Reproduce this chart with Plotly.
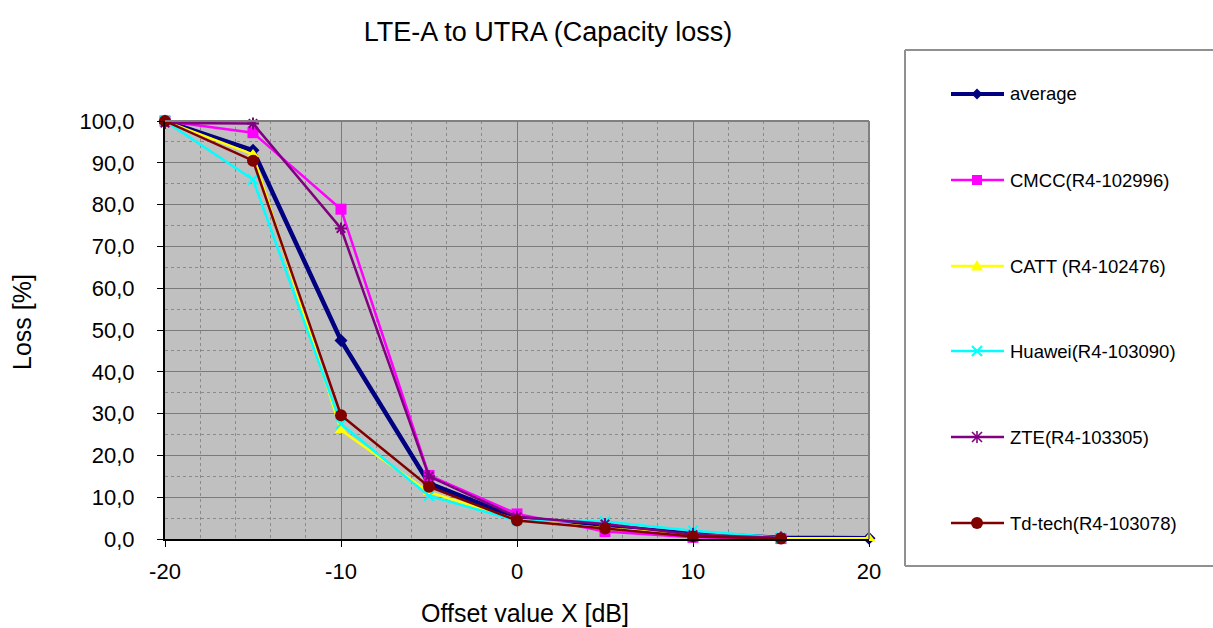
import plotly.graph_objects as go

# ---- data ----
offsets = [-20, -15, -10, -5, 0, 5, 10, 15, 20]
average = [100.0, 93.0, 47.5, 13.3, 5.0, 3.0, 1.2, 0.3, 0.2]
cmcc = [100.0, 97.2, 78.9, 15.2, 6.0, 1.8, 0.4, 0.1, None]
catt = [100.0, 92.0, 26.0, 11.2, 4.6, 2.6, 1.0, 0.2, 0.2]
huawei = [100.0, 86.0, 27.5, 10.3, 4.4, 4.2, 2.0, 0.3, None]
zte = [99.5, 99.4, 74.3, 15.0, 5.3, 3.6, 1.0, 0.3, None]
tdtech = [100.0, 90.5, 29.6, 12.5, 4.4, 2.5, 0.6, 0.1, None]

series_names = ["average", "CMCC(R4-102996)", "CATT (R4-102476)",
                "Huawei(R4-103090)", "ZTE(R4-103305)", "Td-tech(R4-103078)"]
y_tickvals = [0, 10, 20, 30, 40, 50, 60, 70, 80, 90, 100]
y_ticktext = ["0,0", "10,0", "20,0", "30,0", "40,0", "50,0", "60,0", "70,0", "80,0", "90,0", "100,0"]
x_tickvals = [-20, -10, 0, 10, 20]
x_ticktext = ["-20", "-10", "0", "10", "20"]

styles = [
    dict(color="#000080", width=4.5, symbol="diamond", size=10),
    dict(color="#FF00FF", width=2.5, symbol="square", size=11),
    dict(color="#FFFF00", width=2.5, symbol="triangle-up", size=11),
    dict(color="#00FFFF", width=2.5, symbol="x-thin", size=10),
    dict(color="#800080", width=2.5, symbol="asterisk", size=10),
    dict(color="#800000", width=2.5, symbol="circle", size=12),
]
values = [average, cmcc, catt, huawei, zte, tdtech]

FONT = "Liberation Sans, Arial, sans-serif"

# page geometry in page pixels (body margin removed by post_script)
W, H = 1213, 628
PL, PR, PT, PB = 165, 869, 121, 539          # plot area
L, T, R, B = PL, PT, W - PR, H - PB
pw, ph = PR - PL, PB - PT

def px_x(p):
    return (p - PL) / pw

def px_y(p):
    return (PB - p) / ph

fig = go.Figure()
for i, (name, ys, st) in enumerate(zip(series_names, values, styles)):
    thin = st["symbol"] in ("x-thin", "asterisk")
    fig.add_trace(go.Scatter(
        x=offsets, y=ys, name=name, mode="lines+markers", showlegend=False,
        line=dict(color=st["color"], width=st["width"]),
        marker=dict(symbol=st["symbol"], size=st["size"], color=st["color"],
                    line=dict(color=st["color"], width=2 if thin else 0)),
        cliponaxis=False,
    ))


def path(points, close=True):
    s = "M " + " L ".join(f"{px_x(x):.5f},{px_y(y):.5f}" for x, y in points)
    return s + (" Z" if close else "")


def legend_marker(symbol, color, cx, cy):
    out = []
    if symbol == "diamond":
        r = 5.5
        out.append(dict(type="path", xref="paper", yref="paper",
                        path=path([(cx, cy - r), (cx + r, cy), (cx, cy + r), (cx - r, cy)]),
                        fillcolor=color, line=dict(width=0)))
    elif symbol == "square":
        r = 5
        out.append(dict(type="path", xref="paper", yref="paper",
                        path=path([(cx - r, cy - r), (cx + r, cy - r), (cx + r, cy + r), (cx - r, cy + r)]),
                        fillcolor=color, line=dict(width=0)))
    elif symbol == "triangle-up":
        r = 6
        out.append(dict(type="path", xref="paper", yref="paper",
                        path=path([(cx, cy - r), (cx + r, cy + r * 0.75), (cx - r, cy + r * 0.75)]),
                        fillcolor=color, line=dict(width=0)))
    elif symbol == "x-thin":
        r = 5
        for dx in (-1, 1):
            out.append(dict(type="line", xref="paper", yref="paper",
                            x0=px_x(cx - r), y0=px_y(cy - dx * r), x1=px_x(cx + r), y1=px_y(cy + dx * r),
                            line=dict(color=color, width=2)))
    elif symbol == "asterisk":
        r = 5
        for dx in (-1, 1):
            out.append(dict(type="line", xref="paper", yref="paper",
                            x0=px_x(cx - r), y0=px_y(cy - dx * r), x1=px_x(cx + r), y1=px_y(cy + dx * r),
                            line=dict(color=color, width=1.6)))
        out.append(dict(type="line", xref="paper", yref="paper",
                        x0=px_x(cx), y0=px_y(cy - r - 1), x1=px_x(cx), y1=px_y(cy + r + 1),
                        line=dict(color=color, width=1.6)))
    elif symbol == "circle":
        r = 6
        out.append(dict(type="circle", xref="paper", yref="paper",
                        x0=px_x(cx - r), x1=px_x(cx + r), y0=px_y(cy + r), y1=px_y(cy - r),
                        fillcolor=color, line=dict(width=0)))
    return out


# ---- hand-built legend ----
leg_y = [94, 180, 266, 351, 437, 523]
leg_x0, leg_xm, leg_x1, leg_tx = 951, 977, 1004, 1008
shapes = []
annotations = []
for i, (name, st) in enumerate(zip(series_names, styles)):
    yy = leg_y[i]
    shapes.append(dict(type="line", xref="paper", yref="paper",
                       x0=px_x(leg_x0), x1=px_x(leg_x1), y0=px_y(yy), y1=px_y(yy),
                       line=dict(color=st["color"], width=min(st["width"], 4))))
    shapes += legend_marker(st["symbol"], st["color"], leg_xm, yy)
    annotations.append(dict(text=name, xref="paper", yref="paper", x=px_x(leg_tx), y=px_y(yy),
                            xanchor="left", yanchor="middle", showarrow=False,
                            font=dict(size=18.5, family=FONT)))

BOX_L, BOX_T, BOX_B, BOX_R = 905, 50, 566, 1240
box_line = dict(color="#909090", width=2)
shapes += [
    dict(type="line", xref="paper", yref="paper", x0=0, x1=1, y0=1, y1=1,
         line=dict(color="#808080", width=2), layer="above"),
    dict(type="line", xref="paper", yref="paper", x0=1, x1=1, y0=0, y1=1,
         line=dict(color="#808080", width=2), layer="above"),
    dict(type="line", xref="paper", yref="paper", x0=px_x(BOX_L), x1=px_x(BOX_R),
         y0=px_y(BOX_T), y1=px_y(BOX_T), line=box_line),
    dict(type="line", xref="paper", yref="paper", x0=px_x(BOX_L), x1=px_x(BOX_R),
         y0=px_y(BOX_B), y1=px_y(BOX_B), line=box_line),
    dict(type="line", xref="paper", yref="paper", x0=px_x(BOX_L), x1=px_x(BOX_L),
         y0=px_y(BOX_T), y1=px_y(BOX_B), line=box_line),
]
annotations += [
    dict(text="Offset value X [dB]", xref="paper", yref="paper",
         x=px_x(525), y=px_y(613), xanchor="center", yanchor="middle",
         showarrow=False, font=dict(size=25, family=FONT)),
    dict(text="Loss [%]", xref="paper", yref="paper",
         x=px_x(22), y=px_y(322), xanchor="center", yanchor="middle",
         textangle=-90, showarrow=False, font=dict(size=25, family=FONT)),
]

fig.update_layout(
    width=W, height=H, autosize=False,
    margin=dict(l=L, r=R, t=T, b=B, pad=0),
    paper_bgcolor="white", plot_bgcolor="#C0C0C0",
    font=dict(family=FONT, color="black", size=22),
    title=dict(text="LTE-A to UTRA (Capacity loss)", font=dict(size=27, family=FONT),
               x=px_x(548), xanchor="center", y=1 - 32 / H, yanchor="middle",
               xref="paper", yref="container"),
    showlegend=False,
    xaxis=dict(range=[-20, 20], tickvals=x_tickvals, ticktext=x_ticktext, ticks="outside", ticklen=6,
               tickcolor="black", showline=True, linecolor="black", linewidth=2,
               showgrid=True, gridcolor="#7a7a7a", gridwidth=1, zeroline=False,
               ticklabelstandoff=6,
               minor=dict(dtick=2, showgrid=True, gridcolor="#8a8a8a", griddash="dot", gridwidth=1)),
    yaxis=dict(range=[0, 100], tickvals=y_tickvals, ticktext=y_ticktext, ticks="outside",
               ticklen=6, tickcolor="black", showline=True, linecolor="black", linewidth=2,
               showgrid=True, gridcolor="#7a7a7a", gridwidth=1, zeroline=False,
               ticklabelstandoff=18,
               minor=dict(dtick=5, showgrid=True, gridcolor="#8a8a8a", griddash="dot", gridwidth=1)),
    shapes=shapes,
    annotations=annotations,
)

fig.write_html("out.html", config={"displayModeBar": False},
               post_script="document.body.style.margin='0';document.body.style.overflow='hidden';")
